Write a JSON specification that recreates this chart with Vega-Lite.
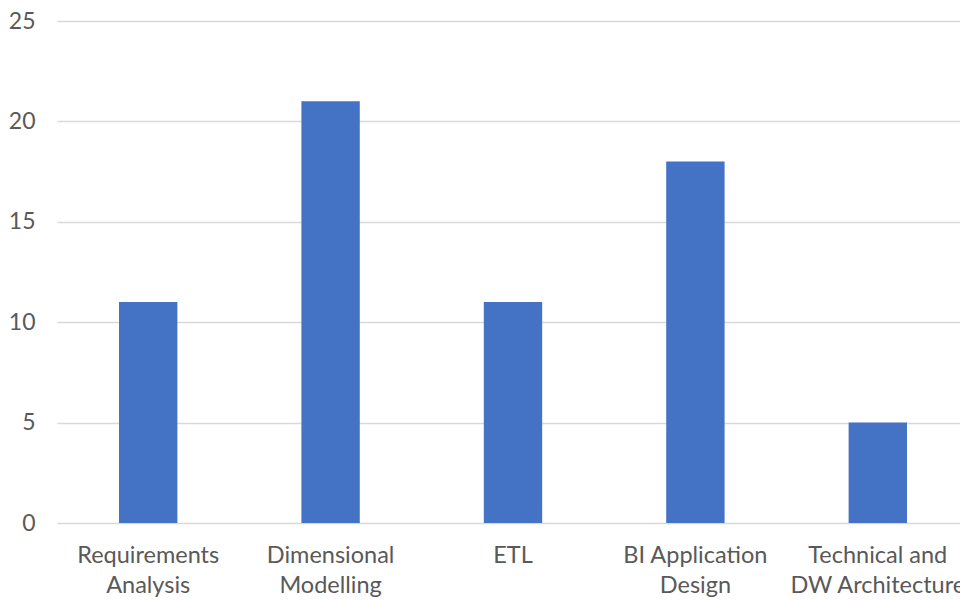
{
  "$schema": "https://vega.github.io/schema/vega-lite/v6.json",
  "autosize": "none",
  "width": 912,
  "height": 502,
  "padding": {"left": 57, "top": 21, "right": 0, "bottom": 77},
  "background": "white",
  "data": {"values": [
    {"category": "Requirements|Analysis", "value": 11},
    {"category": "Dimensional|Modelling", "value": 21},
    {"category": "ETL", "value": 11},
    {"category": "BI Application|Design", "value": 18},
    {"category": "Technical and|DW Architecture", "value": 5}
  ]},
  "mark": {"type": "bar", "color": "#4472C4"},
  "encoding": {
    "x": {
      "field": "category", "type": "nominal", "sort": null,
      "scale": {"paddingInner": 0.68, "paddingOuter": 0.34},
      "axis": {
        "title": null, "labelAngle": 0, "domain": false, "ticks": false,
        "labelExpr": "split(datum.label, '|')",
        "labelFont": "Lato", "labelFontSize": 23.5, "labelColor": "#595959",
        "labelPadding": 20, "labelLineHeight": 30, "labelLimit": 400
      }
    },
    "y": {
      "field": "value", "type": "quantitative",
      "scale": {"domain": [0, 25]},
      "axis": {
        "title": null, "values": [0, 5, 10, 15, 20, 25], "domain": false, "ticks": false,
        "gridColor": "#D9D9D9", "gridWidth": 1.5,
        "labelFont": "Lato", "labelFontSize": 23, "labelColor": "#595959",
        "labelPadding": 22
      }
    }
  },
  "config": {"view": {"stroke": null}}
}
